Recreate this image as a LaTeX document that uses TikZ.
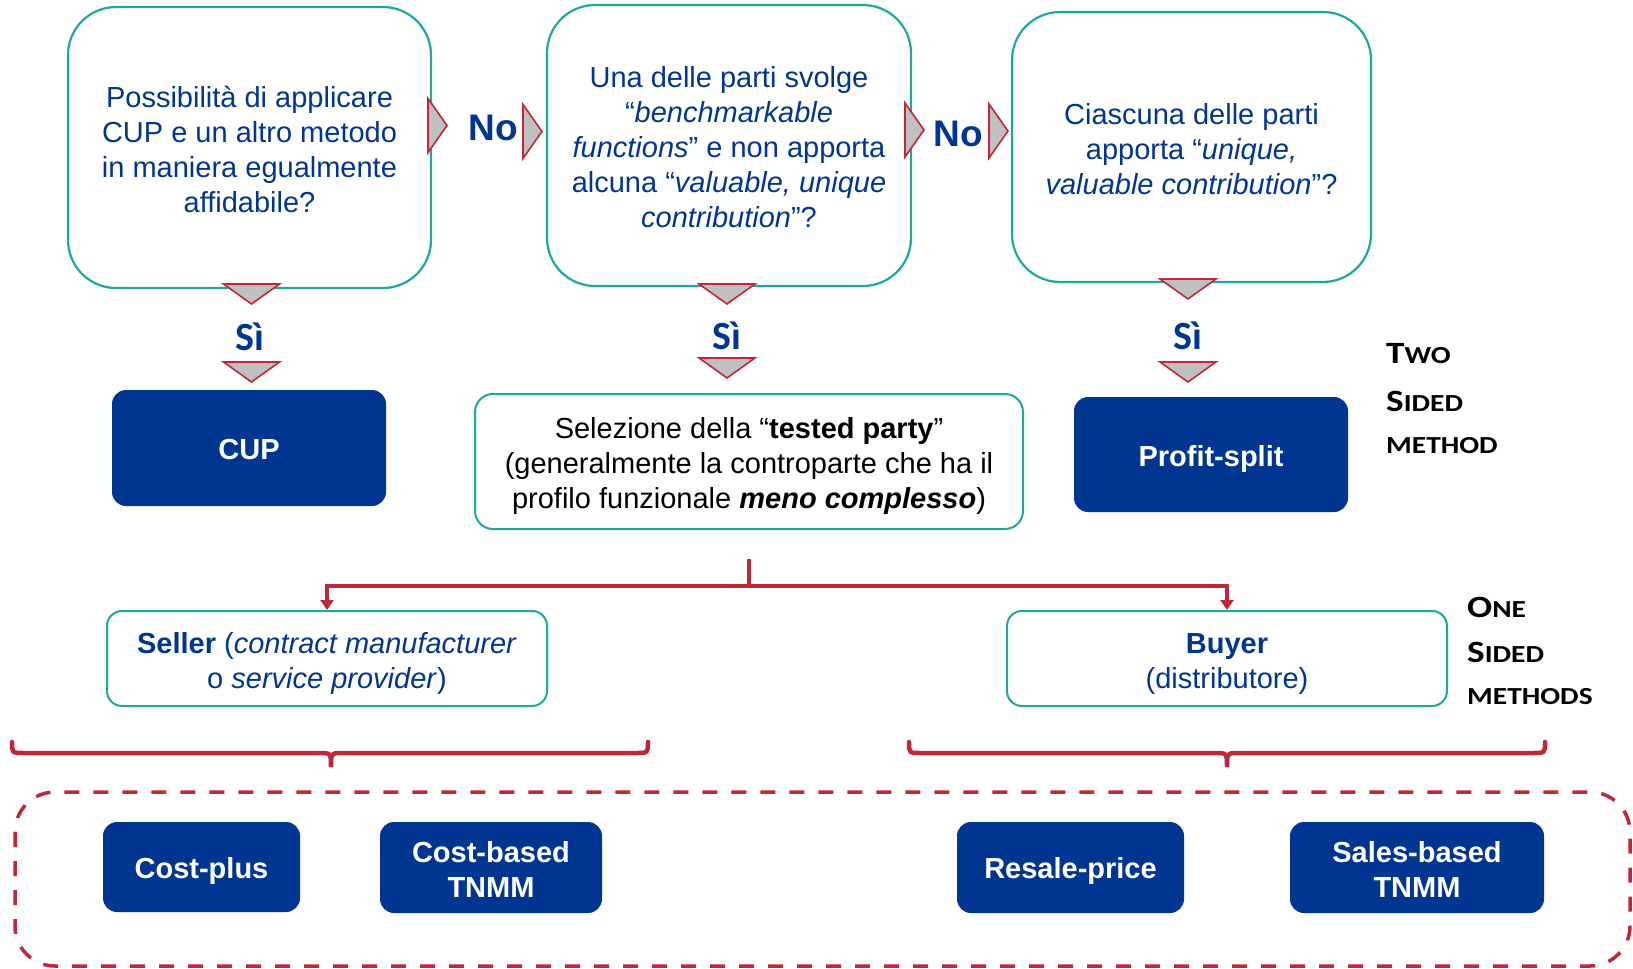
\documentclass[tikz,border=0pt]{standalone}
\usepackage{fontspec}
\setmainfont{Liberation Sans}
\newfontfamily\capsfam[FakeStretch=1.2]{Carlito}
\newfontfamily\sifam{Carlito}
\usetikzlibrary{arrows.meta,calc}
\definecolor{navyb}{RGB}{0,53,145}
\definecolor{tealb}{RGB}{30,168,158}
\definecolor{redl}{RGB}{190,40,56}
\definecolor{trigrey}{RGB}{192,192,192}
\newcommand\scBig{\fontsize{31}{31}\selectfont}
\newcommand\scSmall{\fontsize{24.5}{24.5}\selectfont}
\tikzset{
  txt/.style={font={\fontsize{29}{35}\selectfont}, align=center, inner sep=0pt},
  qbox/.style={draw=tealb, line width=2.2pt, rounded corners=48pt},
  wbox/.style={draw=tealb, line width=2pt, rounded corners=18pt},
  dbox/.style={fill=navyb, rounded corners=14pt},
  qtxt/.style={txt, text=navyb},
  dtxt/.style={txt, text=white, font={\fontsize{29}{35}\selectfont\bfseries}},
  nolab/.style={text=navyb, inner sep=0pt, font={\fontsize{37}{37}\selectfont\bfseries}},
  silab/.style={text=navyb, inner sep=0pt, font={\sifam\fontsize{40}{40}\selectfont\bfseries}},
  caps/.style={inner sep=0pt, anchor=base west, font={\capsfam\bfseries}},
  tri/.style={fill=trigrey, draw=redl, line width=1.6pt, line join=miter},
  rtri/.pic={\filldraw[tri] (0,-27) -- (19,0) -- (0,27) -- cycle;},
  dtri/.pic={\filldraw[tri] (-28,0) -- (28,0) -- (0,20) -- cycle;},
  redline/.style={draw=redl, line width=3.5pt},
}
\begin{document}
\begin{tikzpicture}[x=1pt,y=-1pt]
\useasboundingbox (0,0) rectangle (1633,969);

% question boxes
\node[qbox, minimum width=363pt, minimum height=281pt] (q1) at (249.5,147.5) {};
\node[qtxt] (q1t) at ([yshift=-2pt]q1.center)
  {Possibilità di applicare\\CUP e un altro metodo\\in maniera egualmente\\affidabile?};
\node[qbox, minimum width=364pt, minimum height=281pt] (q2) at (729,145.5) {};
\node[qtxt] (q2t) at ([yshift=-2pt]q2.center)
  {Una delle parti svolge\\“\textit{benchmarkable}\\\textit{functions}” e non apporta\\alcuna “\textit{valuable, unique}\\\textit{contribution}”?};
\node[qbox, minimum width=359pt, minimum height=270pt] (q3) at (1191.5,147) {};
\node[qtxt] (q3t) at ([yshift=-2pt]q3.center)
  {Ciascuna delle parti\\apporta “\textit{unique,}\\\textit{valuable contribution}”?};

% "No" branches
\pic at (428,125.5) {rtri};
\node[nolab] (no1) at (493,128) {No};
\pic at (523,131.5) {rtri};
\pic at (905,130) {rtri};
\node[nolab] (no2) at (958,134) {No};
\pic at (989,131) {rtri};

% "Sì" branches
\pic at (251.5,284) {dtri};
\node[silab] (si1) at (250,337) {Sì};
\pic at (251.5,362) {dtri};
\pic at (727,284) {dtri};
\node[silab] (si2) at (727,336) {Sì};
\pic at (727,358) {dtri};
\pic at (1188,279) {dtri};
\node[silab] (si3) at (1188,336) {Sì};
\pic at (1188,362) {dtri};

% outcomes
\node[dbox, minimum width=274pt, minimum height=116pt] (cup) at (249,448) {};
\node[dtxt] (cupt) at ([yshift=-2pt]cup.center) {CUP};
\node[wbox, minimum width=548pt, minimum height=135pt] (tested) at (749,461.5) {};
\node[txt] (testedt) at ([yshift=-4pt]tested.center)
  {Selezione della “\textbf{tested party}”\\(generalmente la controparte che ha il\\profilo funzionale \textbf{\textit{meno complesso}})};
\node[dbox, minimum width=274pt, minimum height=115pt] (psplit) at (1211,454.5) {};
\node[dtxt] (psplitt) at ([yshift=-4pt]psplit.center) {Profit-split};

\node[caps] (two1) at (1386,363) {\scBig T\scSmall WO};
\node[caps] (two2) at (1386,411) {\scBig S\scSmall IDED};
\node[caps] (two3) at (1386,453) {\scSmall METHOD};

% seller / buyer
\node[wbox, rounded corners=15pt, minimum width=440pt, minimum height=95pt] (seller) at (327,658.5) {};
\node[qtxt] (sellert) at ([yshift=-5pt]seller.center)
  {\textbf{Seller} (\textit{contract manufacturer}\\o \textit{service provider})};
\node[wbox, rounded corners=15pt, minimum width=440pt, minimum height=95pt] (buyer) at (1227,658.5) {};
\node[qtxt] (buyert) at ([yshift=-5.5pt]buyer.center)
  {\textbf{Buyer}\\(distributore)};

\coordinate (tstart) at ([yshift=-29pt]tested.south);
\coordinate (split) at ($(tstart)+(0,27)$);
\draw[redline] (tstart) -- (split);
\draw[redline, -{Triangle[width=13pt,length=10pt]}] (split) -| (seller.north);
\draw[redline, -{Triangle[width=13pt,length=10pt]}] (split) -| (buyer.north);

\node[caps] (one1) at (1467,617) {\scBig O\scSmall NE};
\node[caps] (one2) at (1467,662) {\scBig S\scSmall IDED};
\node[caps] (one3) at (1467,704) {\scSmall METHODS};

% braces
\draw[redl, line width=4.5pt, line cap=round]
  (12,742) .. controls (12,753) .. (24,753) -- (319,753)
  .. controls (331,753) .. (331,767) .. controls (331,753) .. (343,753)
  -- (636,753) .. controls (648,753) .. (648,742);
\draw[redl, line width=4.5pt, line cap=round]
  (909,742) .. controls (909,753) .. (921,753) -- (1215,753)
  .. controls (1227,753) .. (1227,767) .. controls (1227,753) .. (1239,753)
  -- (1533,753) .. controls (1545,753) .. (1545,742);

% method family frame
\draw[redl, line width=3.5pt, dash pattern=on 15pt off 14pt, rounded corners=40pt]
  (15,792) rectangle (1630,966);

% methods
\node[dbox, minimum width=197pt, minimum height=90pt] (cplus) at (201.5,867) {};
\node[dtxt] (cplust) at ([yshift=-4pt]cplus.center) {Cost-plus};
\node[dbox, minimum width=222pt, minimum height=91pt] (ctnmm) at (491,867.5) {};
\node[dtxt] (ctnmmt) at ([yshift=-2pt]ctnmm.center) {Cost-based\\TNMM};
\node[dbox, minimum width=227pt, minimum height=91pt] (resale) at (1070.5,867.5) {};
\node[dtxt] (resalet) at ([yshift=-3pt]resale.center) {Resale-price};
\node[dbox, minimum width=254pt, minimum height=91pt] (stnmm) at (1417,867.5) {};
\node[dtxt] (stnmmt) at ([yshift=-2pt]stnmm.center) {Sales-based\\TNMM};
\end{tikzpicture}
\end{document}
